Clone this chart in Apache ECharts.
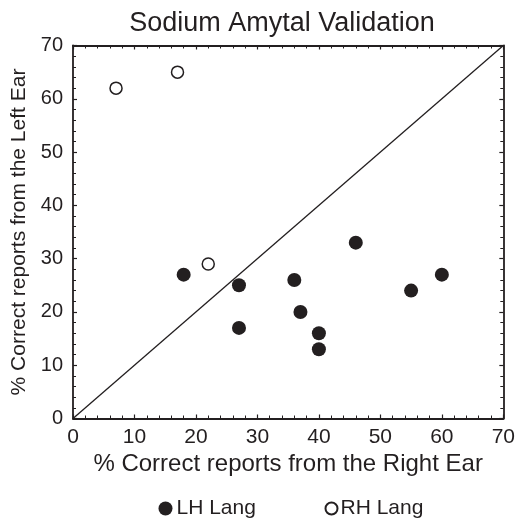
<!DOCTYPE html>
<html>
<head>
<meta charset="utf-8">
<script src="https://cdn.jsdelivr.net/npm/echarts@6/dist/echarts.min.js"></script>
<style>html,body{margin:0;padding:0;background:#fff}#c{width:518px;height:520px}</style>
</head>
<body>
<div id="c"></div>
<script>
const titleText = 'Sodium Amytal Validation';
const xName = '% Correct reports from the Right Ear';
const yName = '% Correct reports from the Left Ear';
const seriesNames = ['LH Lang', 'RH Lang'];
const lhX = [18, 27, 27, 36, 37, 40, 40, 46, 55, 60];
const lhY = [27, 25, 17, 26, 20, 16, 13, 33, 24, 27];
const rhX = [7, 17, 22];
const rhY = [62, 65, 29];
const diagonal = [[0, 0], [70, 70]];
const axisMin = 0, axisMax = 70, axisStep = 10;

const INK = '#231f20';
const FONT = '"Liberation Sans", Arial, Helvetica, sans-serif';
const chart = echarts.init(document.getElementById('c'), null, {renderer: 'canvas'});

const pair = (xs, ys) => xs.map((x, i) => [x, ys[i]]);

const baseAxis = (extra) => Object.assign({
  type: 'value', min: axisMin, max: axisMax, interval: axisStep,
  axisLine: {show: true, onZero: false, lineStyle: {color: INK, width: 1.8}},
  axisTick: {show: true, inside: true, length: 4, lineStyle: {color: INK, width: 1.2}},
  minorTick: {show: true, splitNumber: 5, length: 3, lineStyle: {color: INK, width: 1}},
  splitLine: {show: false},
  axisLabel: {show: false}
}, extra);

chart.setOption({
  animation: false,
  backgroundColor: '#fff',
  title: {
    text: titleText, left: 282, top: 10, padding: 0, textAlign: 'center',
    textStyle: {fontFamily: FONT, fontSize: 27, fontWeight: 'normal', color: INK}
  },
  grid: {left: 73, right: 14.5, top: 45.5, bottom: 101.5, containLabel: false},
  legend: [
    {
      data: [seriesNames[0]], left: 158.5, top: 498, padding: 0,
      itemWidth: 14, itemHeight: 14, itemGap: 0, icon: 'circle',
      textStyle: {fontFamily: FONT, fontSize: 21, color: INK, padding: [0, 0, 0, -1]}
    },
    {
      data: [seriesNames[1]], left: 324.5, top: 498, padding: 0,
      itemWidth: 12, itemHeight: 12, itemGap: 0, icon: 'circle',
      textStyle: {fontFamily: FONT, fontSize: 21, color: INK, padding: [0, 0, 0, -2]}
    }
  ],
  xAxis: [
    baseAxis({
      position: 'bottom',
      name: xName, nameLocation: 'middle', nameGap: 33,
      nameTextStyle: {fontFamily: FONT, fontSize: 24, color: INK},
      axisLabel: {show: true, margin: 8, fontFamily: FONT, fontSize: 21, color: INK}
    }),
    baseAxis({position: 'top'})
  ],
  yAxis: [
    baseAxis({
      position: 'left',
      name: yName, nameLocation: 'middle', nameGap: 41,
      nameTextStyle: {fontFamily: FONT, fontSize: 21, color: INK},
      axisLabel: {show: true, margin: 10, fontFamily: FONT, fontSize: 20, color: INK}
    }),
    baseAxis({position: 'right'})
  ],
  series: [
    {
      type: 'line', data: diagonal, showSymbol: false, symbol: 'none',
      lineStyle: {color: INK, width: 1.3}, silent: true, z: 1
    },
    {
      name: seriesNames[0], type: 'scatter', data: pair(lhX, lhY),
      symbol: 'circle', symbolSize: 14,
      itemStyle: {color: INK, opacity: 1}, z: 3
    },
    {
      name: seriesNames[1], type: 'scatter', data: pair(rhX, rhY),
      symbol: 'circle', symbolSize: 12,
      itemStyle: {color: '#fff', borderColor: INK, borderWidth: 1.5, opacity: 1}, z: 3
    }
  ]
});
</script>
</body>
</html>
